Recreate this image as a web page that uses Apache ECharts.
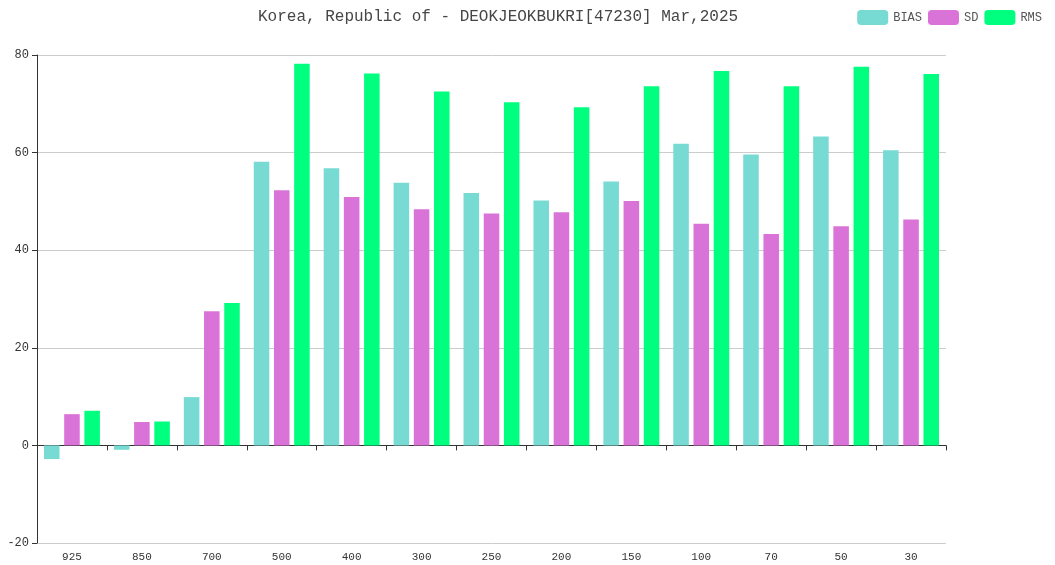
<!DOCTYPE html>
<html>
<head>
<meta charset="utf-8">
<script src="https://cdn.jsdelivr.net/npm/echarts@6/dist/echarts.min.js"></script>
<style>
  html, body { margin: 0; padding: 0; background: #fff; }
  #chart { width: 1055px; height: 565px; }
</style>
</head>
<body>
<div id="chart"></div>
<script>
// pressure levels (hPa) and monthly stats
const levels = ['925', '850', '700', '500', '400', '300', '250', '200', '150', '100', '70', '50', '30']
const bias = [-2.8, -0.9, 9.9, 58.1, 56.8, 53.8, 51.7, 50.2, 54.1, 61.8, 59.6, 63.3, 60.5]
const sd = [6.4, 4.8, 27.5, 52.3, 50.9, 48.4, 47.5, 47.8, 50.1, 45.4, 43.3, 44.9, 46.3]
const rms = [7.1, 4.9, 29.2, 78.2, 76.2, 72.5, 70.3, 69.3, 73.6, 76.7, 73.6, 77.6, 76.1]

const font = 'Liberation Mono'
const chart = echarts.init(document.getElementById('chart'))

const option = {
  animation: false,
  textStyle: { fontFamily: font },
  title: {
    text: 'Korea, Republic of - DEOKJEOKBUKRI[47230] Mar,2025',
    left: 253,
    top: 4,
    textStyle: { fontFamily: font, fontSize: 16, fontWeight: 'normal', color: '#464646' }
  },
  legend: {
    right: 8,
    top: 5,
    itemWidth: 31,
    itemHeight: 15,
    itemGap: 6,
    textStyle: { fontFamily: font, fontSize: 12, color: '#555' },
    data: ['BIAS', 'SD', 'RMS']
  },
  grid: { left: 37, right: 109, top: 55, bottom: 22, containLabel: false },
  xAxis: [
    {
      type: 'category',
      data: levels,
      axisLine: { show: true, onZero: true, lineStyle: { color: '#333' } },
      axisTick: { show: true, length: 5, lineStyle: { color: '#333' } },
      axisLabel: { show: false },
      splitLine: { show: false }
    },
    {
      type: 'category',
      data: levels,
      position: 'bottom',
      axisLine: { show: false, onZero: false },
      axisTick: { show: false },
      axisLabel: { show: true, margin: 9, fontSize: 11, color: '#333', fontFamily: font },
      splitLine: { show: false }
    }
  ],
  yAxis: {
    type: 'value',
    min: -20,
    max: 80,
    interval: 20,
    axisLine: { show: true, lineStyle: { color: '#333' } },
    axisTick: { show: true, length: 5, lineStyle: { color: '#333' } },
    axisLabel: { fontSize: 12, color: '#333', fontFamily: font },
    splitLine: { show: true, lineStyle: { color: '#ccc' } }
  },
  series: [
    { name: 'BIAS', type: 'bar', data: bias, barGap: '30%', barCategoryGap: '20%', itemStyle: { color: '#78dbd3' } },
    { name: 'SD', type: 'bar', data: sd, barGap: '30%', barCategoryGap: '20%', itemStyle: { color: '#da73d8' } },
    { name: 'RMS', type: 'bar', data: rms, barGap: '30%', barCategoryGap: '20%', itemStyle: { color: '#00ff7f' } }
  ]
}

chart.setOption(option)
</script>
</body>
</html>
